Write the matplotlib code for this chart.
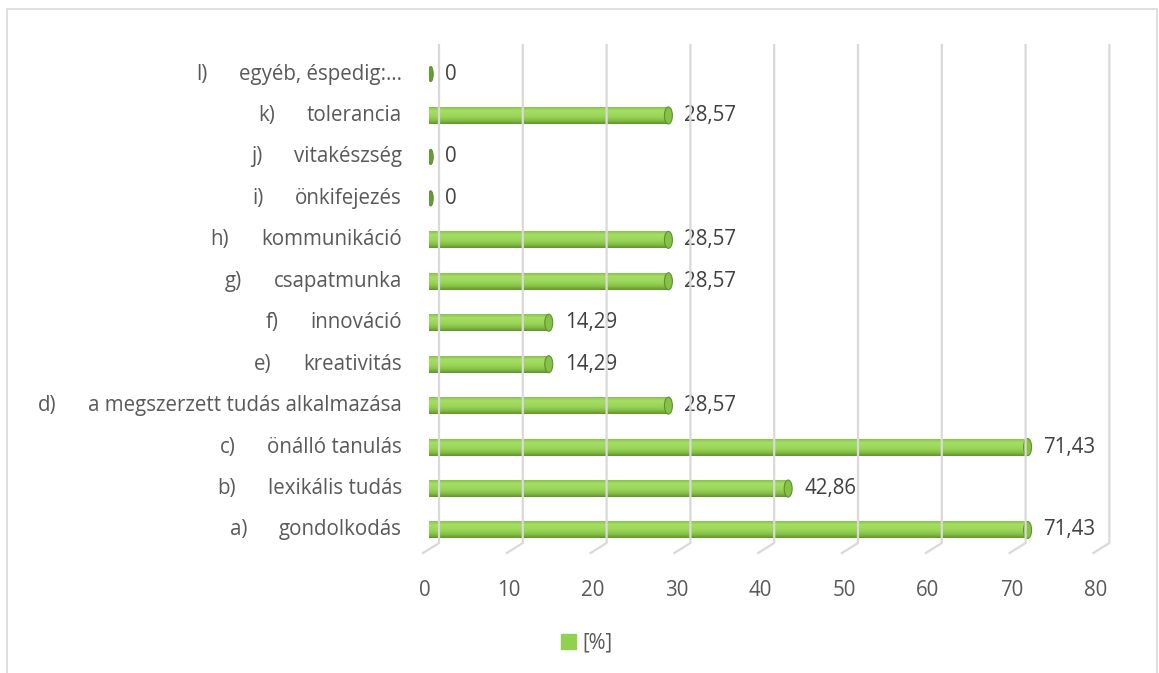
import matplotlib
matplotlib.use("Agg")
import matplotlib.pyplot as plt
import numpy as np
from matplotlib.patches import Ellipse, Patch
from matplotlib.colors import LinearSegmentedColormap
from matplotlib.lines import Line2D
from matplotlib.transforms import IdentityTransform, offset_copy

# data (bottom to top, as in the chart)
letters = ["a)", "b)", "c)", "d)", "e)", "f)", "g)", "h)", "i)", "j)", "k)", "l)"]
categories = ["gondolkodás", "lexikális tudás", "önálló tanulás",
              "a megszerzett tudás alkalmazása", "kreativitás", "innováció",
              "csapatmunka", "kommunikáció", "önkifejezés", "vitakészség",
              "tolerancia", "egyéb, éspedig:…"]
values = [71.43, 42.86, 71.43, 28.57, 14.29, 14.29, 28.57, 28.57, 0, 0, 28.57, 0]
x_ticks = [0, 10, 20, 30, 40, 50, 60, 70, 80]
series_name = "[%]"

W, H = 1159, 673
plt.rcParams['font.family'] = ['Open Sans', 'DejaVu Sans']
FS = 14.8
axis_col = "#595959"
label_col = "#404040"
grid_col = "#D9D9D9"

fig = plt.figure(figsize=(W / 100, H / 100), dpi=100)
fig.patch.set_facecolor("white")

# plot area placed in pixels
ax = fig.add_axes([429 / W, 1 - 553 / H, 670.4 / W, 508 / H])
ax.axis("off")

y = np.arange(len(values))
bar_h = 0.41

# cylinder shading, top -> bottom
cyl = LinearSegmentedColormap.from_list(
    "cyl", ["#88C24A", "#A5DE65", "#9FDA5E", "#96D354", "#82BC45", "#62932F"])
grad = np.linspace(0, 1, 64).reshape(-1, 1)

bars = ax.barh(y, values, height=bar_h, color="#92D050", label=series_name, zorder=3)
for rect, v, yi in zip(bars, values, y):
    if v > 0:
        im = ax.imshow(grad, cmap=cyl, aspect="auto", origin="upper", zorder=3.1,
                       extent=(0, v, yi - bar_h / 2, yi + bar_h / 2), interpolation="bilinear")
        im.set_clip_path(rect)
        ax.add_patch(Ellipse((0, yi), 0.9, bar_h, facecolor="#8CC84C", edgecolor="none", zorder=2.9))
        ax.add_patch(Ellipse((v, yi), 0.95, bar_h, facecolor="#86C148", edgecolor="#5F912E",
                             lw=0.8, zorder=4))
    else:
        ax.add_patch(Ellipse((0.2, yi), 0.62, bar_h * 0.9, facecolor="#639E30", edgecolor="#558A28",
                             lw=0.6, zorder=4))

ax.set_xlim(0, 80)
ax.set_ylim(-0.555, 11.70)

# 3d-ish gridlines and tick labels (drawn in pixels)
for t in x_ticks:
    xd = ax.transData.transform((t, 0))[0]
    fig.add_artist(Line2D([xd + 10, xd + 10, xd - 6], [H - 45, H - 543, H - 553],
                          transform=IdentityTransform(), color=grid_col, lw=1.6, zorder=1))
    fig.text((xd - 4) / W, 1 - 590 / H, str(t), ha="center", va="center",
             fontsize=FS, color=axis_col)

# data labels
for v, yi in zip(values, y):
    txt = "0" if v == 0 else f"{v:.2f}".replace(".", ",")
    ax.annotate(txt, xy=(v, yi), xytext=(11.5, 0), textcoords="offset points",
                ha="left", va="center", fontsize=FS, color=label_col, zorder=5)

# category labels: letter + tab + text
for let, cat, yi in zip(letters, categories, y):
    tr = offset_copy(ax.transData, fig=fig, x=-27, y=0, units="dots")
    t = ax.text(0, yi, cat, ha="right", va="center", fontsize=FS, color=axis_col,
                transform=tr, clip_on=False)
    ax.annotate(let, xy=(0, 0.5), xycoords=t, xytext=(-32 * 0.72, 0),
                textcoords="offset points", ha="right", va="center",
                fontsize=FS, color=axis_col)

# legend
fig.legend(handles=[Patch(color="#92D050")], labels=[series_name], loc="center",
           bbox_to_anchor=(587 / W, 1 - 643 / H), frameon=False, fontsize=FS,
           handlelength=0.7, handleheight=0.7, handletextpad=0.35, labelcolor=axis_col)

# chart border
fig.add_artist(Line2D([7 / W, 7 / W, 1157 / W, 1157 / W], [-0.01, 1 - 9 / H, 1 - 9 / H, -0.01],
                      transform=fig.transFigure, color=grid_col, lw=1.2))

fig.savefig("out.png", dpi=100)
